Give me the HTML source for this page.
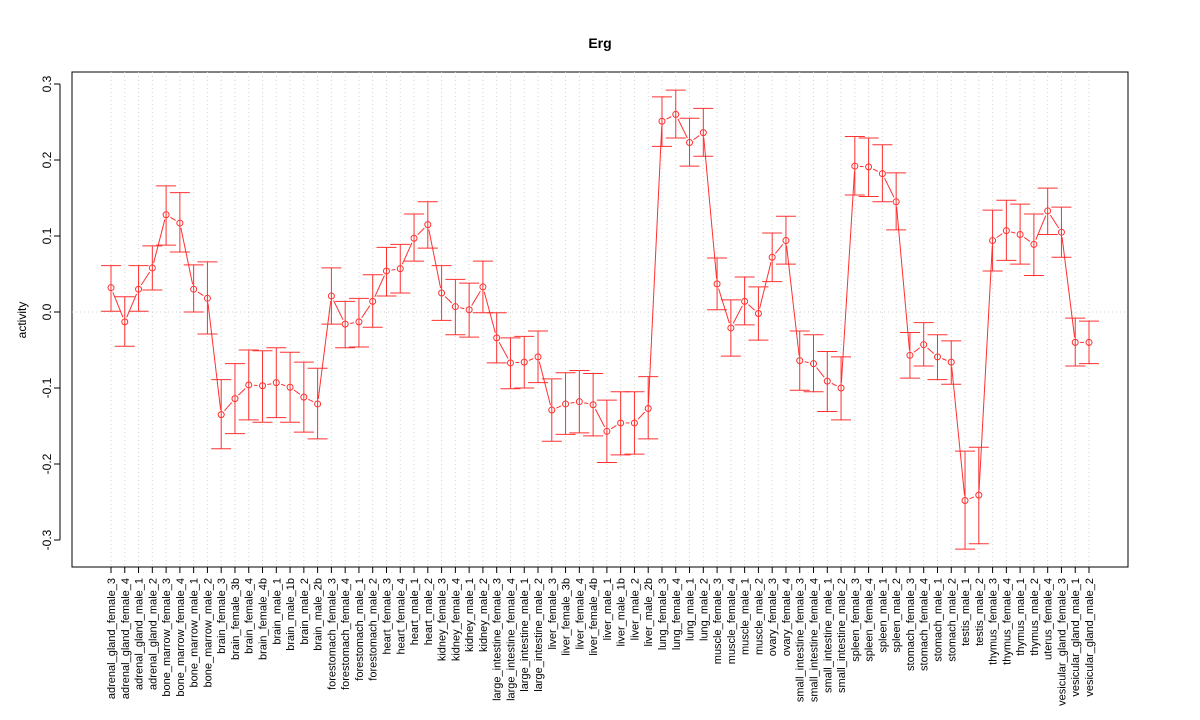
<!DOCTYPE html>
<html><head><meta charset="utf-8"><style>body{margin:0;background:#fff}svg{display:block}text{font-family:"Liberation Sans",sans-serif}</style></head>
<body>
<svg id="chart" width="1200" height="720">
<text x="600" y="48" text-anchor="middle" font-size="14" font-weight="bold">Erg</text>
<rect x="72" y="72" width="1056" height="495" fill="none" stroke="#000"/>
<g id="grid"></g><g id="marks"></g><g id="axes"></g>
<text transform="translate(26,320) rotate(-90)" text-anchor="middle" font-size="12">activity</text>
</svg>
<script>
const categories=["adrenal_gland_female_3","adrenal_gland_female_4","adrenal_gland_male_1","adrenal_gland_male_2","bone_marrow_female_3","bone_marrow_female_4","bone_marrow_male_1","bone_marrow_male_2","brain_female_3","brain_female_3b","brain_female_4","brain_female_4b","brain_male_1","brain_male_1b","brain_male_2","brain_male_2b","forestomach_female_3","forestomach_female_4","forestomach_male_1","forestomach_male_2","heart_female_3","heart_female_4","heart_male_1","heart_male_2","kidney_female_3","kidney_female_4","kidney_male_1","kidney_male_2","large_intestine_female_3","large_intestine_female_4","large_intestine_male_1","large_intestine_male_2","liver_female_3","liver_female_3b","liver_female_4","liver_female_4b","liver_male_1","liver_male_1b","liver_male_2","liver_male_2b","lung_female_3","lung_female_4","lung_male_1","lung_male_2","muscle_female_3","muscle_female_4","muscle_male_1","muscle_male_2","ovary_female_3","ovary_female_4","small_intestine_female_3","small_intestine_female_4","small_intestine_male_1","small_intestine_male_2","spleen_female_3","spleen_female_4","spleen_male_1","spleen_male_2","stomach_female_3","stomach_female_4","stomach_male_1","stomach_male_2","testis_male_1","testis_male_2","thymus_female_3","thymus_female_4","thymus_male_1","thymus_male_2","uterus_female_4","vesicular_gland_female_3","vesicular_gland_male_1","vesicular_gland_male_2"];
const activity=[0.032,-0.013,0.030,0.058,0.128,0.117,0.030,0.018,-0.135,-0.114,-0.096,-0.097,-0.093,-0.099,-0.112,-0.121,0.021,-0.016,-0.013,0.014,0.054,0.057,0.097,0.115,0.025,0.007,0.003,0.033,-0.034,-0.067,-0.066,-0.059,-0.129,-0.121,-0.118,-0.122,-0.157,-0.146,-0.146,-0.127,0.251,0.260,0.223,0.236,0.037,-0.021,0.014,-0.002,0.072,0.094,-0.064,-0.068,-0.091,-0.100,0.192,0.191,0.182,0.145,-0.057,-0.043,-0.059,-0.066,-0.248,-0.241,0.094,0.107,0.102,0.089,0.133,0.105,-0.040,-0.040];
const upper=[0.061,0.020,0.061,0.087,0.166,0.157,0.062,0.066,-0.089,-0.068,-0.050,-0.051,-0.047,-0.053,-0.066,-0.074,0.058,0.014,0.018,0.049,0.085,0.089,0.129,0.145,0.061,0.043,0.038,0.067,-0.001,-0.034,-0.032,-0.025,-0.088,-0.080,-0.077,-0.081,-0.116,-0.105,-0.105,-0.085,0.283,0.292,0.255,0.268,0.071,0.016,0.046,0.033,0.104,0.126,-0.025,-0.030,-0.052,-0.059,0.231,0.229,0.220,0.183,-0.027,-0.014,-0.030,-0.038,-0.183,-0.178,0.134,0.147,0.142,0.129,0.163,0.138,-0.008,-0.012];
const lower=[0.001,-0.045,0.001,0.029,0.088,0.079,0.000,-0.029,-0.180,-0.160,-0.142,-0.145,-0.139,-0.145,-0.158,-0.167,-0.016,-0.047,-0.046,-0.020,0.021,0.025,0.067,0.084,-0.011,-0.030,-0.033,-0.001,-0.067,-0.101,-0.100,-0.093,-0.170,-0.161,-0.159,-0.163,-0.198,-0.188,-0.187,-0.167,0.218,0.229,0.192,0.205,0.003,-0.058,-0.017,-0.037,0.040,0.063,-0.103,-0.105,-0.131,-0.142,0.154,0.152,0.145,0.108,-0.087,-0.071,-0.089,-0.095,-0.312,-0.305,0.054,0.068,0.063,0.048,0.102,0.072,-0.071,-0.068];
const yTicks=[-0.3,-0.2,-0.1,0.0,0.1,0.2,0.3];
const yTickLabels=["-0.3","-0.2","-0.1","0.0","0.1","0.2","0.3"];

const NS="http://www.w3.org/2000/svg";
const xs=i=>111+i*(1089-111)/(categories.length-1);
const ys=v=>312-v*760;
function mk(tag,attrs,parent){const e=document.createElementNS(NS,tag);for(const k in attrs)e.setAttribute(k,attrs[k]);document.getElementById(parent).appendChild(e);return e;}
categories.forEach((c,i)=>{
  const g=mk('line',{x1:xs(i),x2:xs(i),y1:72,y2:567,stroke:'#d3d3d3','stroke-dasharray':'1,3'},'grid');
  
  
});
const h=mk('line',{x1:72,x2:1128,y1:ys(0),y2:ys(0),stroke:'#d3d3d3','stroke-dasharray':'1,3'},'grid');


mk('line',{x1:60,x2:60,y1:ys(yTicks[0]),y2:ys(yTicks[yTicks.length-1]),stroke:'#000'},'axes');
yTicks.forEach((t,i)=>{
  mk('line',{x1:60,x2:54,y1:ys(t),y2:ys(t),stroke:'#000'},'axes');
  const tx=mk('text',{transform:`translate(51,${ys(t)}) rotate(-90)`,'text-anchor':'middle','font-size':12},'axes');
  tx.textContent=yTickLabels[i];
  
  
});
mk('line',{x1:xs(0),x2:xs(categories.length-1),y1:567,y2:567,stroke:'#000'},'axes');
categories.forEach((c,i)=>{
  mk('line',{x1:xs(i),x2:xs(i),y1:567,y2:573,stroke:'#000'},'axes');
  const tx=mk('text',{transform:`translate(${xs(i)+4},578) rotate(-90)`,'text-anchor':'end','font-size':11},'axes');
  tx.textContent=c;
  
  
});
for(let i=0;i<categories.length-1;i++){
  const x1=xs(i),y1=ys(activity[i]),x2=xs(i+1),y2=ys(activity[i+1]);
  const dx=x2-x1,dy=y2-y1,L=Math.hypot(dx,dy),g=5;
  if(L>2*g){
    const l=mk('line',{x1:x1+dx*g/L,y1:y1+dy*g/L,x2:x2-dx*g/L,y2:y2-dy*g/L,stroke:'#ff3030','stroke-width':1},'marks');
    
    
  }
}
categories.forEach((c,i)=>{
  const x=xs(i);
  const e=mk('path',{d:`M${x},${ys(upper[i])}V${ys(lower[i])}M${x-10},${ys(upper[i])}H${x+10}M${x-10},${ys(lower[i])}H${x+10}`,stroke:'#ff3030',fill:'none'},'marks');
  
  
  const p=mk('circle',{cx:x,cy:ys(activity[i]),r:3,fill:'none',stroke:'#ff3030'},'marks');
  
  
});
</script>
</body></html>
